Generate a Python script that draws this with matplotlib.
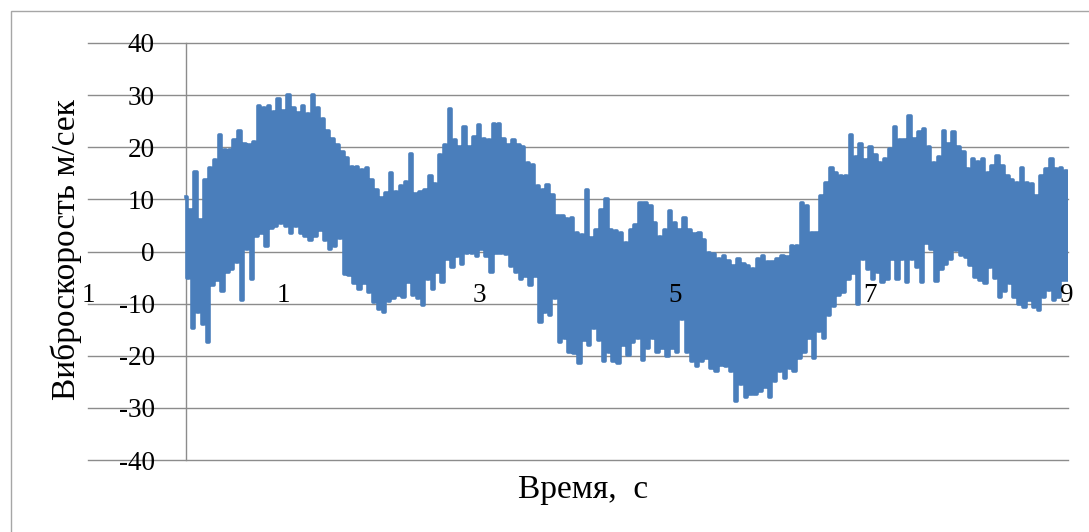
import matplotlib

matplotlib.use("Agg")
import matplotlib.pyplot as plt
import numpy as np
from matplotlib.patches import Rectangle

# upper / lower envelope of the vibration record, one pair every 0.05 s (t = 0 .. 9 s)
hi = [
    10.5, 8.0, 15.3, 6.0, 13.7, 16.0, 17.5, 22.3, 19.5, 19.5,
    21.3, 23.2, 20.7, 20.5, 21.0, 28.0, 27.5, 28.0, 26.7, 29.2,
    27.0, 30.0, 27.5, 26.5, 28.0, 26.4, 30.0, 27.5, 25.5, 23.2,
    21.6, 20.5, 19.0, 18.0, 16.3, 16.3, 15.6, 16.0, 13.7, 11.8,
    10.3, 11.2, 15.0, 11.5, 12.5, 13.4, 18.8, 11.0, 11.5, 11.8,
    14.4, 13.0, 18.5, 20.4, 27.3, 21.3, 20.0, 23.9, 20.0, 22.0,
    24.2, 21.5, 21.3, 24.5, 24.5, 21.6, 20.5, 21.3, 20.4, 20.0,
    16.9, 16.6, 12.5, 11.8, 12.8, 10.9, 6.8, 6.8, 6.2, 6.5,
    3.6, 3.2, 11.8, 2.5, 4.2, 8.0, 10.1, 4.2, 3.9, 3.6,
    1.7, 4.2, 5.0, 9.3, 9.3, 8.7, 5.5, 2.7, 4.2, 7.7,
    5.5, 4.2, 6.5, 4.2, 3.3, 3.6, 2.3, -0.2, -0.5, -1.5,
    -0.8, -1.8, -2.7, -1.5, -2.4, -2.7, -3.4, -1.5, -0.8, -2.0,
    -2.1, -1.5, -0.8, -1.0, 1.1, 1.1, 9.3, 8.7, 3.6, 3.6,
    10.6, 13.1, 16.0, 15.0, 14.4, 14.4, 22.3, 18.2, 20.7, 17.5,
    20.0, 18.5, 16.9, 17.8, 19.7, 23.9, 21.3, 21.3, 26.0, 21.5,
    22.9, 23.5, 20.0, 16.9, 18.2, 23.2, 20.7, 22.9, 20.0, 19.0,
    15.8, 17.7, 17.2, 17.7, 15.1, 16.4, 18.3, 16.4, 14.5, 13.8,
    13.2, 16.1, 13.2, 12.9, 10.6, 14.5, 15.8, 17.7, 15.8, 16.0,
    15.4,
]
lo = [
    -5.0, -14.7, -11.6, -14.0, -17.3, -6.5, -5.5, -7.5, -4.0, -3.4,
    -2.0, -9.4, 0.4, -5.3, 3.0, 3.6, 1.0, 4.5, 4.9, 5.5,
    4.9, 3.6, 4.9, 3.5, 3.0, 2.3, 3.0, 4.2, 2.3, 0.4,
    1.0, 2.5, -4.3, -4.5, -6.0, -7.2, -6.0, -7.8, -9.7, -11.0,
    -11.6, -9.5, -9.0, -8.4, -8.8, -5.9, -8.4, -9.0, -10.3, -5.3,
    -7.2, -4.0, -5.9, -1.5, -3.0, -0.8, -2.4, -0.2, -0.2, -0.8,
    0.4, -0.8, -4.0, -0.2, -0.2, -0.5, -2.7, -4.0, -5.3, -4.7,
    -6.5, -4.7, -13.5, -11.6, -12.2, -9.0, -17.3, -16.6, -19.2, -19.5,
    -21.4, -17.0, -17.9, -14.7, -17.0, -21.1, -19.2, -21.1, -21.4, -17.9,
    -19.8, -17.3, -16.6, -20.8, -18.5, -16.5, -19.2, -18.5, -20.0, -18.5,
    -19.2, -13.0, -19.2, -21.0, -22.0, -21.0, -20.4, -22.3, -23.0, -21.7,
    -22.0, -23.0, -28.7, -25.5, -28.0, -27.4, -27.4, -26.8, -26.0, -28.0,
    -24.9, -23.0, -24.3, -22.3, -23.0, -20.4, -19.2, -16.6, -20.4, -15.3,
    -16.6, -12.2, -10.5, -8.4, -7.8, -5.3, -4.1, -10.0, -1.5, -3.4,
    -5.3, -4.0, -5.9, -5.3, -1.5, -5.3, -1.5, -5.9, -1.5, -3.0,
    -5.9, 1.7, 0.4, -5.6, -3.4, -2.4, -1.5, 0.3, -0.7, -1.0,
    -2.5, -4.8, -5.5, -6.1, -3.0, -5.0, -8.7, -7.5, -6.0, -8.7,
    -10.0, -10.6, -9.3, -10.6, -11.3, -8.7, -7.4, -9.3, -8.7, -5.5,
    -5.5,
]
step = 0.05
y_ticks = [-40, -30, -20, -10, 0, 10, 20, 30, 40]
x_pos = [-1, 1, 3, 5, 7, 9]
x_labels = ["1", "1", "3", "5", "7", "9"]

LINE = "#4a7ebb"
GRID = "#8c8c8c"
SERIF = ["Liberation Serif", "DejaVu Serif"]

plt.rcParams["font.family"] = SERIF

t = np.arange(len(hi)) * step
# each sample pair drawn as one up/down stroke
tt = np.column_stack([t, t + step / 2]).ravel()
yy = np.column_stack([hi, lo]).ravel()

fig = plt.figure(figsize=(10.89, 5.32), dpi=100)
ax = fig.add_axes([88 / 1089, 72 / 532, 980 / 1089, 417 / 532])

ax.set_xlim(-1, 9.02)
ax.set_ylim(-40, 40)
ax.set_yticks(y_ticks)
ax.set_yticklabels([str(v) for v in y_ticks])
ax.set_xticks([])
ax.grid(axis="y", color=GRID, lw=1.0)
for gl in ax.get_ygridlines():
    gl.set_clip_on(False)
ax.set_axisbelow(True)
ax.plot([0, 0], [-40, 40], color=GRID, lw=1.0, zorder=1, clip_on=False)
for s in ax.spines.values():
    s.set_visible(False)
ax.tick_params(axis="y", length=0, pad=-48, labelsize=19.5)
for lab in ax.get_yticklabels():
    lab.set_horizontalalignment("right")

ax.plot(tt, yy, color=LINE, lw=2.6, drawstyle="steps-mid", zorder=3)

for xp, lab in zip(x_pos, x_labels):
    ax.text(xp, -9.6, lab, ha="center", va="baseline", fontsize=19.5, zorder=4)

fig.text(66 / 1089, 1 - 250 / 532, "Виброскорость м/сек", rotation=90,
         ha="center", va="center", fontsize=24)
fig.text(583 / 1089, 1 - 490 / 532, "Время,  с", ha="center", va="center",
         fontsize=24)

fig.patches.append(Rectangle((11 / 1089, -0.1), 1.2, 1.1 - 11 / 532,
                             transform=fig.transFigure, fill=False,
                             edgecolor="#a6a6a6", lw=1.0))

fig.savefig("out.png", dpi=100)
